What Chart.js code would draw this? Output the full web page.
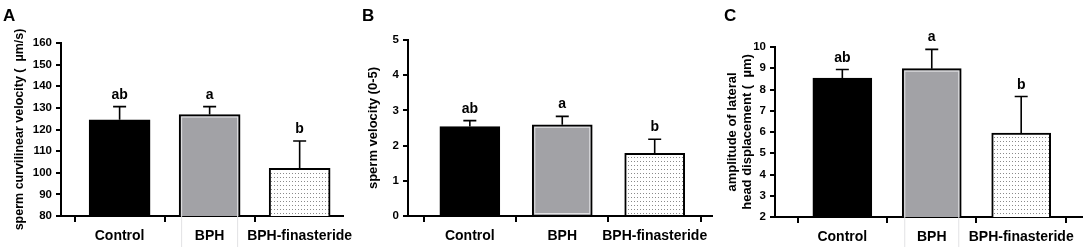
<!DOCTYPE html>
<html><head><meta charset="utf-8">
<script src="https://cdn.jsdelivr.net/npm/chart.js@4.4.0/dist/chart.umd.min.js"></script>
<style>
html,body{margin:0;padding:0;background:#fff;width:1084px;height:247px;overflow:hidden;}
canvas{position:absolute;top:0;}
</style></head>
<body>
<canvas id="cA" width="360" height="247" style="left:0px"></canvas>
<canvas id="cB" width="360" height="247" style="left:360px"></canvas>
<canvas id="cC" width="364" height="247" style="left:720px"></canvas>
<script>
// ---- data ----
const categories = ['Control', 'BPH', 'BPH-finasteride'];
const sigLetters = ['ab', 'a', 'b'];

const curvMeans = [124.5, 126.9, 102.1];
const curvSD = [6.1, 3.7, 12.6];

const velMeans = [2.54, 2.59, 1.78];
const velSD = [0.17, 0.24, 0.40];

const alhMeans = [8.54, 8.98, 5.95];
const alhSD = [0.40, 0.91, 1.72];

const panelLetters = ['A', 'B', 'C'];
const titleA = 'sperm curvilinear velocity (  \u00b5m/s)';
const titleB = 'sperm velocity (0-5)';
const titleC = ['amplitude of lateral', 'head displacement (  \u00b5m)'];

// ---- style ----
const FONT = 'Arial, "Liberation Sans", sans-serif';

function dotPattern() {
  const c = document.createElement('canvas');
  c.width = 3; c.height = 4;
  const g = c.getContext('2d');
  g.fillStyle = '#fff'; g.fillRect(0, 0, 3, 4);
  g.fillStyle = '#8a8a8a'; g.fillRect(1, 1, 1, 1);
  return g.createPattern(c, 'repeat');
}

const annotPlugin = {
  id: 'annot',
  afterDatasetsDraw(chart, args, opts) {
    const ctx = chart.ctx;
    const xs = chart.scales.x, ys = chart.scales.y;
    ctx.save();
    // light inner edge of the grey bar
    const bar = chart.getDatasetMeta(0).data[1];
    if (bar) {
      const p = bar.getProps(['x', 'y', 'base', 'width'], true);
      ctx.strokeStyle = '#e2e2e4';
      ctx.lineWidth = 1;
      ctx.strokeRect(p.x - p.width / 2 + 2.5, p.y + 2.5, p.width - 5, p.base - p.y - 4);
    }
    opts.means.forEach((m, i) => {
      const x = xs.getPixelForValue(i);
      const y0 = ys.getPixelForValue(m);
      const y1 = ys.getPixelForValue(m + opts.sd[i]);
      ctx.strokeStyle = '#000';
      ctx.lineWidth = 1.6;
      ctx.beginPath();
      ctx.moveTo(x, y0); ctx.lineTo(x, y1);
      ctx.moveTo(x - 6.5, y1); ctx.lineTo(x + 6.5, y1);
      ctx.stroke();
      ctx.fillStyle = '#000';
      ctx.font = 'bold 14px ' + FONT;
      ctx.textAlign = 'center';
      ctx.textBaseline = 'alphabetic';
      ctx.fillText(sigLetters[i], x, y1 - 8);
    });
    ctx.restore();
  },
  afterDraw(chart, args, opts) {
    const ctx = chart.ctx;
    const ca = chart.chartArea;
    ctx.save();
    ctx.fillStyle = '#000';
    ctx.font = 'bold 17px ' + FONT;
    ctx.textAlign = 'left';
    ctx.textBaseline = 'alphabetic';
    ctx.fillText(opts.letter, opts.letterX, 21);
    // axis title
    const lines = Array.isArray(opts.title) ? opts.title : [opts.title];
    ctx.font = 'bold ' + opts.titleSize + 'px ' + FONT;
    ctx.textAlign = 'center';
    ctx.textBaseline = 'middle';
    const cy = (ca.top + ca.bottom) / 2;
    lines.forEach((t, k) => {
      ctx.save();
      ctx.translate(opts.titleX[k], cy);
      ctx.rotate(-Math.PI / 2);
      ctx.fillText(t, 0, 0);
      ctx.restore();
    });
    ctx.restore();
  }
};

function makeChart(id, means, sd, yMin, yMax, yStep, geo) {
  const pat = dotPattern();
  return new Chart(document.getElementById(id), {
    type: 'bar',
    data: {
      datasets: [{
        data: means.map((v, i) => ({ x: i, y: v })),
        backgroundColor: ['#000000', '#a2a2a6', pat],
        borderColor: '#000',
        borderWidth: 2,
        barThickness: geo.barW
      }]
    },
    options: {
      responsive: false,
      animation: false,
      layout: { padding: { top: geo.top, right: geo.right, left: 0, bottom: 0 } },
      plugins: {
        legend: { display: false },
        tooltip: { enabled: false },
        annot: { means: means, sd: sd, letter: geo.letter, letterX: geo.letterX, title: geo.title, titleX: geo.titleX, titleSize: geo.titleSize }
      },
      scales: {
        x: {
          type: 'linear',
          min: geo.xMin, max: geo.xMax,
          offset: false,
          afterBuildTicks: s => { s.ticks = categories.map((c, i) => ({ value: i })); },
          afterFit: s => { s.height = 247 - geo.bottom; },
          ticks: {
            callback: v => categories[v],
            font: { family: FONT, size: 14, weight: 'bold' },
            color: '#000',
            padding: 6,
            maxRotation: 0,
            autoSkip: false
          },
          grid: { display: true, drawOnChartArea: false, drawTicks: true, tickLength: 6, color: '#000', lineWidth: 2 },
          border: { display: true, color: '#000', width: 2 }
        },
        y: {
          min: yMin, max: yMax,
          afterFit: s => { s.width = geo.left; },
          ticks: {
            stepSize: yStep,
            font: { family: FONT, size: 11.5, weight: 'bold' },
            color: '#000',
            padding: 4
          },
          grid: { display: true, drawOnChartArea: false, drawTicks: true, tickLength: 5, color: '#000', lineWidth: 2 },
          border: { display: true, color: '#000', width: 2 }
        }
      }
    },
    plugins: [annotPlugin]
  });
}

makeChart('cA', curvMeans, curvSD, 80, 160, 10, {
  left: 61, right: 12, top: 43, bottom: 216, barW: 61,
  xMin: -0.651, xMax: 2.48,
  letter: panelLetters[0], letterX: 3, title: titleA, titleX: [20], titleSize: 12.5
});
makeChart('cB', velMeans, velSD, 0, 5, 1, {
  left: 48, right: 8, top: 40, bottom: 216, barW: 60,
  xMin: -0.669, xMax: 2.62,
  letter: panelLetters[1], letterX: 2, title: titleB, titleX: [13], titleSize: 13
});
makeChart('cC', alhMeans, alhSD, 2, 10, 1, {
  left: 55, right: 2, top: 47, bottom: 217, barW: 59,
  xMin: -0.753, xMax: 2.68,
  letter: panelLetters[2], letterX: 4, title: titleC, titleX: [12, 27], titleSize: 13
});
</script>
</body></html>
